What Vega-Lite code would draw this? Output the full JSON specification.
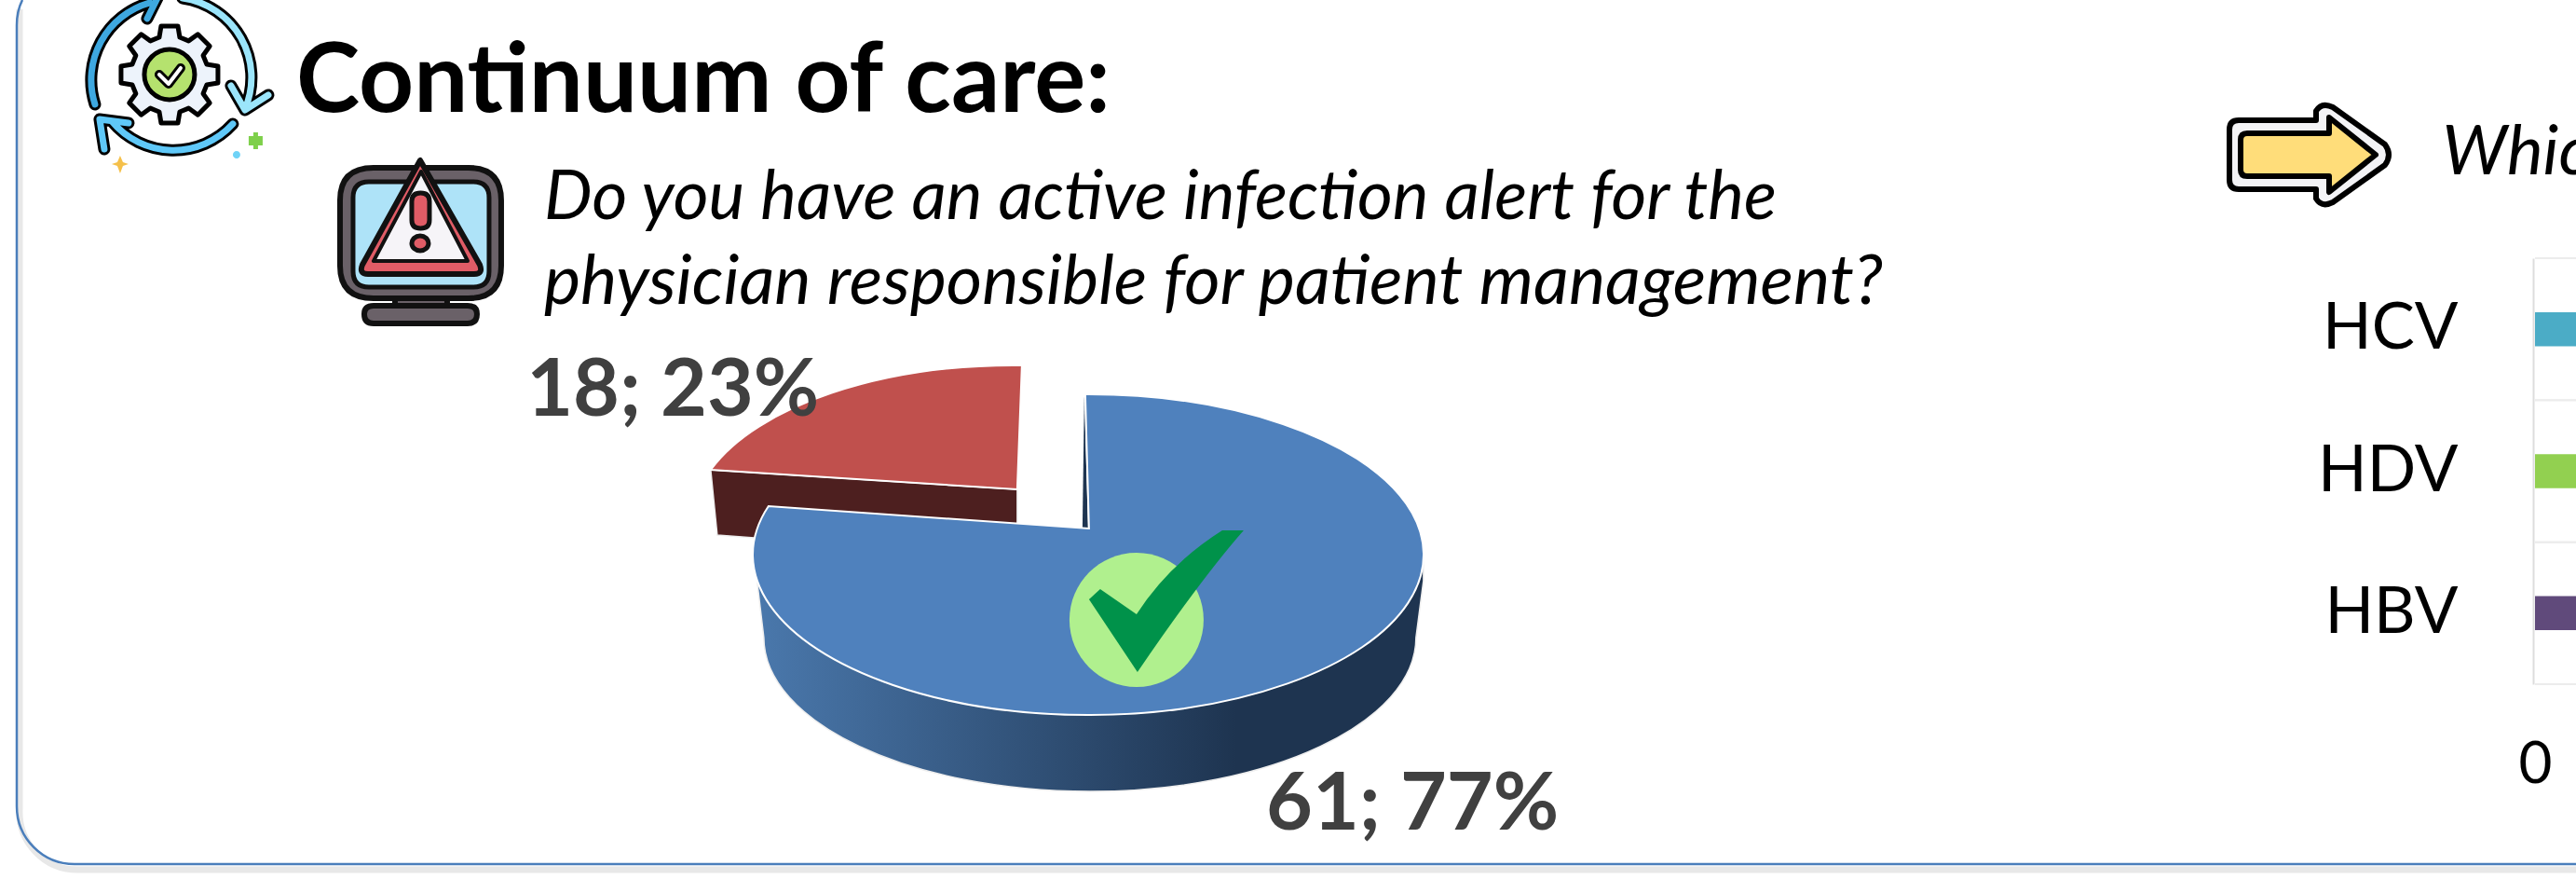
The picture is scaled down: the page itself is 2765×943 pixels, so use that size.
{"$schema":"https://vega.github.io/schema/vega-lite/v6.json","width":2765,"height":943,"padding":0,"autosize":{"type":"fit","contains":"padding"},"background":"white","config":{"view":{"stroke":null},"font":"Lato"},
"datasets":{"one":[{"k":1}],"slices":[{"answer":"No","n":18,"pct":23,"label":"18; 23%"},{"answer":"Yes","n":61,"pct":77,"label":"61; 77%"}],"bars":[{"virus":"HCV","value":45},{"virus":"HDV","value":30},{"virus":"HBV","value":60}]},
"resolve":{"scale":{"x":"independent","y":"independent","color":"independent"}},
"layer":[
{"data":{"name":"one"},"encoding":{"x":{"datum":0,"type":"quantitative","scale":{"domain":[0,100],"range":[0,2765]},"axis":null},"y":{"datum":0,"type":"quantitative","scale":{"domain":[0,100],"range":[0,943]},"axis":null}},
"layer":[
{"mark":{"type":"point","clip":true,"filled":false,"opacity":1,"size":4,"shape":"M21,10 L21,868 A62,62 0 0 0 83,933 L2780,933","stroke":"#e8e8e8","strokeWidth":7}},
{"mark":{"type":"point","clip":true,"filled":false,"opacity":1,"size":4,"shape":"M24,0 Q18,12 18,27 L18,865 A62,62 0 0 0 80,927 L2780,927","stroke":"#4a7ebb","strokeWidth":2.5}},
{"layer":[
{"encoding":{"x":{"datum":6.58,"type":"quantitative","scale":{"domain":[0,100],"range":[0,2765]},"axis":null},"y":{"datum":8.48,"type":"quantitative","scale":{"domain":[0,100],"range":[0,943]},"axis":null}},"layer":[
{"mark":{"type":"point","clip":true,"filled":false,"opacity":1,"size":4,"strokeCap":"round","strokeJoin":"round","stroke":"#000","strokeWidth":13,"shape":"M-80,32 A86,86 0 0 1 -21,-77 M-24,-60 L-12,-84 M14,-82 A86,86 0 0 1 81,37 M66,12 L81,38 L106,22 M68,53 A86,86 0 0 1 -62,50 M-70,80 L-75,48 L-44,52"}},
{"mark":{"type":"point","clip":true,"filled":false,"opacity":1,"size":4,"strokeCap":"round","strokeJoin":"round","stroke":"#3ea8e0","strokeWidth":7,"shape":"M-80,32 A86,86 0 0 1 -21,-77 M-24,-60 L-12,-84"}},
{"mark":{"type":"point","clip":true,"filled":false,"opacity":1,"size":4,"strokeCap":"round","strokeJoin":"round","stroke":"#9be5fb","strokeWidth":7,"shape":"M14,-82 A86,86 0 0 1 81,37 M66,12 L81,38 L106,22"}},
{"mark":{"type":"point","clip":true,"filled":false,"opacity":1,"size":4,"strokeCap":"round","strokeJoin":"round","stroke":"#5fc8f8","strokeWidth":7,"shape":"M68,53 A86,86 0 0 1 -62,50 M-70,80 L-75,48 L-44,52"}},
{"mark":{"type":"point","clip":true,"filled":true,"opacity":1,"size":4,"fill":"#edf3fb","stroke":"#000","strokeWidth":5,"strokeJoin":"round","shape":"M-11,-40 L-9,-52 L9,-52 L11,-40 L20.5,-36.1 L30.4,-43.2 L43.2,-30.4 L36.1,-20.5 L40,-11 L52,-9 L52,9 L40,11 L36.1,20.5 L43.2,30.4 L30.4,43.2 L20.5,36.1 L11,40 L9,52 L-9,52 L-11,40 L-20.5,36.1 L-30.4,43.2 L-43.2,30.4 L-36.1,20.5 L-40,11 L-52,9 L-52,-9 L-40,-11 L-36.1,-20.5 L-43.2,-30.4 L-30.4,-43.2 L-20.5,-36.1 Z"}},
{"mark":{"type":"point","clip":true,"filled":true,"opacity":1,"size":4,"fill":"#b5e26e","stroke":"#000","strokeWidth":5,"shape":"M-27,0 A27,27 0 1 1 27,0 A27,27 0 1 1 -27,0 Z"}},
{"mark":{"type":"point","clip":true,"filled":false,"opacity":1,"size":4,"stroke":"#000","strokeWidth":10,"strokeJoin":"round","strokeCap":"round","shape":"M-11,0 L-1,10 L12,-7"}},
{"mark":{"type":"point","clip":true,"filled":false,"opacity":1,"size":4,"stroke":"#fff","strokeWidth":4,"strokeJoin":"round","strokeCap":"round","shape":"M-11,0 L-1,10 L12,-7"}},
{"mark":{"type":"point","clip":true,"filled":true,"opacity":1,"size":4,"fill":"#7ed04b","shape":"M90,62 L95,62 L95,66 L100,66 L100,76 L95,76 L95,80 L90,80 L90,76 L85,76 L85,66 L90,66 Z"}},
{"mark":{"type":"point","clip":true,"filled":true,"opacity":1,"size":4,"fill":"#6fd3f7","shape":"M68,86 A4,4 0 1 1 76,86 A4,4 0 1 1 68,86 Z"}},
{"mark":{"type":"point","clip":true,"filled":true,"opacity":1,"size":4,"fill":"#f5c04a","shape":"M-53,87 L-50,94 L-44,96 L-50,98 L-53,106 L-56,98 L-62,96 L-56,94 Z"}}
]},
{"encoding":{"x":{"datum":16.31,"type":"quantitative","scale":{"domain":[0,100],"range":[0,2765]},"axis":null},"y":{"datum":26.51,"type":"quantitative","scale":{"domain":[0,100],"range":[0,943]},"axis":null}},"layer":[
{"mark":{"type":"point","filled":true,"opacity":1,"size":4,"fill":"#6a6168","stroke":"#111","strokeWidth":6,"shape":"M-27,66 L29,66 L29,80 L-27,80 Z"}},
{"mark":{"type":"point","filled":true,"opacity":1,"size":4,"fill":"#6a6168","stroke":"#111","strokeWidth":6,"shape":"M-50,78 L51,78 Q61,78 61,87 Q61,97 51,97 L-50,97 Q-60,97 -60,87 Q-60,78 -50,78 Z"}},
{"mark":{"type":"point","filled":true,"opacity":1,"size":4,"fill":"#6a6168","stroke":"#111","strokeWidth":6,"shape":"M-50,-70 L52,-70 Q87,-70 87,-35 L87,35 Q87,70 52,70 L-50,70 Q-86,70 -86,35 L-86,-35 Q-86,-70 -50,-70 Z"}},
{"mark":{"type":"point","filled":true,"opacity":1,"size":4,"fill":"#aee3f8","stroke":"#111","strokeWidth":5,"shape":"M-55,-55 L57,-55 Q74,-55 74,-38 L74,41 Q74,58 57,58 L-55,58 Q-72,58 -72,41 L-72,-38 Q-72,-55 -55,-55 Z"}},
{"mark":{"type":"point","filled":true,"opacity":1,"size":4,"fill":"#e05c66","stroke":"#111","strokeWidth":6,"strokeJoin":"round","shape":"M0,-78 L-62,34 Q-66,44 -56,44 L58,44 Q68,44 64,34 Z"}},
{"mark":{"type":"point","filled":true,"opacity":1,"size":4,"fill":"#f6f4f8","stroke":"#111","strokeWidth":4,"strokeJoin":"round","shape":"M1,-66 L-50,30 L51,30 Z"}},
{"mark":{"type":"point","filled":true,"opacity":1,"size":4,"fill":"#e05c66","stroke":"#111","strokeWidth":5,"shape":"M-9,-34 Q-9,-43 0.5,-43 Q10,-43 10,-34 L10,-14 Q10,-5 0.5,-5 Q-9,-5 -9,-14 Z"}},
{"mark":{"type":"point","filled":true,"opacity":1,"size":4,"fill":"#e05c66","stroke":"#111","strokeWidth":5,"shape":"M-9,11 A9,8 0 1 0 9,11 A9,8 0 1 0 -9,11 Z"}}
]},
{"encoding":{"x":{"datum":89.62,"type":"quantitative","scale":{"domain":[0,100],"range":[0,2765]},"axis":null},"y":{"datum":17.5,"type":"quantitative","scale":{"domain":[0,100],"range":[0,943]},"axis":null}},"layer":[
{"mark":{"type":"point","filled":true,"opacity":1,"size":4,"fill":"#f3f3f6","stroke":"#000","strokeWidth":6,"strokeJoin":"round","shape":"M-75,-36 L8,-36 L8,-46 Q14,-56 26,-50 L82,-10 Q90,1 82,12 L26,52 Q14,58 8,48 L8,38 L-75,38 Q-85,38 -85,28 L-85,-26 Q-85,-36 -75,-36 Z"}},
{"mark":{"type":"point","filled":true,"opacity":1,"size":4,"fill":"#ffdd7a","stroke":"#000","strokeWidth":6,"strokeJoin":"round","shape":"M-66,-22 L22,-22 L22,-39 L72,1 L22,41 L22,24 L-66,24 Q-73,24 -73,17 L-73,-15 Q-73,-22 -66,-22 Z"}}
]}
]},
{"data":{"name":"slices"},"encoding":{"x":{"datum":42.31,"type":"quantitative","scale":{"domain":[0,100],"range":[0,2765]},"axis":null},"y":{"datum":63.1,"type":"quantitative","scale":{"domain":[0,100],"range":[0,943]},"axis":null}},"layer":[
{"transform":[{"filter":"datum.answer==='No'"}],"mark":{"type":"point","filled":true,"opacity":1,"size":4,"fill":"#4d1f1f","stroke":"#eee","strokeWidth":1.5,"shape":"M-407,-91 L-78,-70 L-78,-33 L-300,-40 L-360,-18 L-400,-21 Z"}},
{"transform":[{"filter":"datum.answer==='Yes'"}],"mark":{"type":"point","filled":true,"opacity":1,"size":4,"stroke":"#eee","strokeWidth":1.5,"fill":{"x1":0,"y1":0,"x2":1,"y2":0,"gradient":"linear","stops":[{"offset":0,"color":"#4a78ac"},{"offset":0.72,"color":"#1e3450"},{"offset":1,"color":"#1e3450"}]},"shape":"M-358,22 L-350,89 A350,165 0 0 0 350,89 L358,28 L358,0 L-358,0 Z"}},
{"transform":[{"filter":"datum.answer==='Yes'"}],"mark":{"type":"point","filled":true,"opacity":1,"size":4,"fill":"#1e3450","shape":"M-6,-170 L-2,-28 L-8,-28 Z"}},
{"mark":{"type":"point","filled":true,"opacity":1,"size":4,"stroke":"#fff","strokeWidth":2},"encoding":{"color":{"field":"answer","type":"nominal","scale":{"domain":["Yes","No"],"range":["#4f81bd","#c0504d"]},"legend":null},"shape":{"field":"answer","type":"nominal","scale":{"domain":["Yes","No"],"range":["M-5,-172 A360,172 0 1 1 -345,-52 L-1,-28 Z","M-407,-91 A345,168 0 0 1 -73,-203 L-78,-70 Z"]},"legend":null}}}
]},
{"encoding":{"x":{"datum":44.12,"type":"quantitative","scale":{"domain":[0,100],"range":[0,2765]},"axis":null},"y":{"datum":70.52,"type":"quantitative","scale":{"domain":[0,100],"range":[0,943]},"axis":null}},"layer":[
{"mark":{"type":"point","filled":true,"opacity":1,"size":4,"fill":"#b0f08e","shape":"M-72,0 A72,72 0 1 1 72,0 A72,72 0 1 1 -72,0 Z"}},
{"mark":{"type":"point","filled":true,"opacity":1,"size":4,"fill":"#00924a","shape":"M-51,-22 L-39,-33 L0,-6 Q35,-60 92,-96 L115,-96 Q70,-45 1,56 Z"}}
]},
{"data":{"values":[{"t":"Continuum of care:"}]},"mark":{"type":"text","align":"left","baseline":"alphabetic","font":"Lato","fontWeight":"bold","fontSize":103,"color":"#000"},"encoding":{"text":{"field":"t"},"x":{"datum":11.5,"type":"quantitative","scale":{"domain":[0,100],"range":[0,2765]},"axis":null},"y":{"datum":12.73,"type":"quantitative","scale":{"domain":[0,100],"range":[0,943]},"axis":null}}},
{"data":{"values":[{"t":"Do you have an active infection alert for the"}]},"mark":{"type":"text","align":"left","baseline":"alphabetic","font":"Lato","fontStyle":"italic","fontSize":73,"color":"#000"},"encoding":{"text":{"field":"t"},"x":{"datum":21.12,"type":"quantitative","scale":{"domain":[0,100],"range":[0,2765]},"axis":null},"y":{"datum":24.92,"type":"quantitative","scale":{"domain":[0,100],"range":[0,943]},"axis":null}}},
{"data":{"values":[{"t":"physician responsible for patient management?"}]},"mark":{"type":"text","align":"left","baseline":"alphabetic","font":"Lato","fontStyle":"italic","fontSize":74,"color":"#000"},"encoding":{"text":{"field":"t"},"x":{"datum":21.12,"type":"quantitative","scale":{"domain":[0,100],"range":[0,2765]},"axis":null},"y":{"datum":34.57,"type":"quantitative","scale":{"domain":[0,100],"range":[0,943]},"axis":null}}},
{"data":{"values":[{"t":"Whic"}]},"mark":{"type":"text","clip":true,"align":"left","baseline":"alphabetic","font":"Lato","fontStyle":"italic","fontSize":73,"color":"#000"},"encoding":{"text":{"field":"t"},"x":{"datum":94.8,"type":"quantitative","scale":{"domain":[0,100],"range":[0,2765]},"axis":null},"y":{"datum":19.83,"type":"quantitative","scale":{"domain":[0,100],"range":[0,943]},"axis":null}}},
{"data":{"name":"slices"},"transform":[{"filter":"datum.answer==='No'"}],"mark":{"type":"text","align":"left","baseline":"alphabetic","font":"Lato","fontWeight":"bold","fontSize":86,"color":"#404040"},"encoding":{"text":{"field":"label"},"x":{"datum":20.44,"type":"quantitative","scale":{"domain":[0,100],"range":[0,2765]},"axis":null},"y":{"datum":47.3,"type":"quantitative","scale":{"domain":[0,100],"range":[0,943]},"axis":null}}},
{"data":{"name":"slices"},"transform":[{"filter":"datum.answer==='Yes'"}],"mark":{"type":"text","align":"left","baseline":"alphabetic","font":"Lato","fontWeight":"bold","fontSize":86,"color":"#404040"},"encoding":{"text":{"field":"label"},"x":{"datum":49.15,"type":"quantitative","scale":{"domain":[0,100],"range":[0,2765]},"axis":null},"y":{"datum":94.38,"type":"quantitative","scale":{"domain":[0,100],"range":[0,943]},"axis":null}}}
]},
{"data":{"name":"bars"},"encoding":{"y":{"field":"virus","type":"nominal","scale":{"domain":["HCV","HDV","HBV"],"range":[277,734]},"axis":{"title":null,"orient":"left","offset":-2719,"domain":true,"domainColor":"#dddddd","domainWidth":2,"ticks":false,"labelPadding":81,"labelFont":"Lato","labelFontSize":69,"labelColor":"#000","labelAngle":0}},"x":{"field":"value","type":"quantitative","scale":{"domain":[0,100],"range":[2721,3600]},"axis":{"title":null,"values":[0],"orient":"bottom","offset":-153,"domain":false,"ticks":false,"grid":false,"labelPadding":0,"labelFlush":false,"labelFont":"Lato","labelFontSize":62,"labelColor":"#000","labelBaseline":"top"}}},
"layer":[
{"mark":{"type":"rule","clip":true,"color":"#ececec","strokeWidth":2},"encoding":{"y":{"field":"virus","type":"nominal","bandPosition":0},"x":{"datum":0,"type":"quantitative"},"x2":{"datum":100}}},
{"mark":{"type":"rule","clip":true,"color":"#ececec","strokeWidth":2},"encoding":{"y":{"field":"virus","type":"nominal","bandPosition":1},"x":{"datum":0,"type":"quantitative"},"x2":{"datum":100}}},
{"mark":{"type":"bar","clip":true,"height":{"band":0.24}},"encoding":{"color":{"field":"virus","type":"nominal","scale":{"domain":["HCV","HDV","HBV"],"range":["#4bacc6","#92d050","#604a7b"]},"legend":null}}}
]}
]}
